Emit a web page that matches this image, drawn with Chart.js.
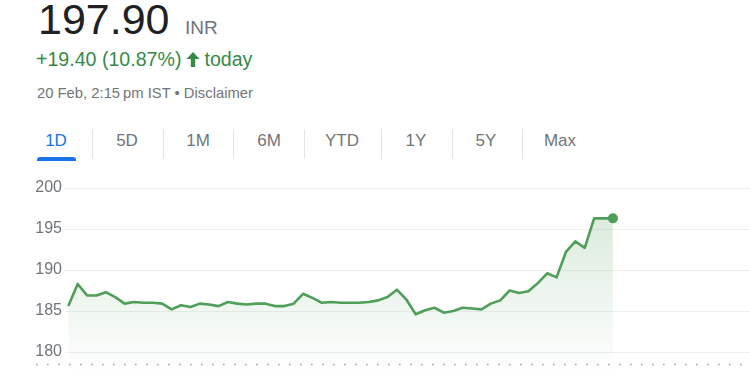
<!DOCTYPE html>
<html>
<head>
<meta charset="utf-8">
<script src="https://cdn.jsdelivr.net/npm/chart.js@4"></script>
<style>
  body { margin: 0; width: 750px; height: 375px; overflow: hidden; background: #fff; font-family: "Liberation Sans", Arial, sans-serif; position: relative; }
  .abs { position: absolute; white-space: nowrap; }
  #price { left: 38px; top: -5px; font-size: 43px; color: #202124; }
  #cur { left: 185px; top: 17px; font-size: 19px; color: #70757a; }
  #change { left: 36px; top: 48px; font-size: 19.6px; color: #37894a; }
  #change svg { vertical-align: -1px; margin: 0 4px 0 5px; }
  #meta { left: 37px; top: 85px; font-size: 14.8px; color: #70757a; }
  .tab { top: 131px; font-size: 17px; color: #70757a; transform: translateX(-50%); }
  .tab.on { color: #1a73e8; }
  .sep { position: absolute; top: 129px; width: 1px; height: 30px; background: #e3e3e3; }
  #uline { position: absolute; left: 37px; top: 157px; width: 39px; height: 4px; background: #1a73e8; border-radius: 3px 3px 0 0; }
  #wrap { position: absolute; left: 0; top: 170px; }
</style>
</head>
<body>
<div class="abs" id="price">197.90</div>
<div class="abs" id="cur">INR</div>
<div class="abs" id="change">+19.40 (10.87%)<svg width="14" height="15" viewBox="0 0 14 15"><path d="M7 0 L13.5 7 L9.2 7 L9.2 15 L4.8 15 L4.8 7 L0.5 7 Z" fill="#37894a"/></svg>today</div>
<div class="abs" id="meta">20 Feb, 2:15&#8201;pm IST • Disclaimer</div>
<div id="tabs"></div>
<div id="uline"></div>
<!-- canvas is 5px larger than the visible area: Chart.js keeps a 5px margin for the end dot -->
<div id="wrap"><canvas id="chart" width="755" height="210"></canvas></div>
<script>
// tab bar
const ranges = ['1D', '5D', '1M', '6M', 'YTD', '1Y', '5Y', 'Max'];
const tabCenters = [56, 127, 198, 269, 342, 416, 486, 560];
const sepX = [92, 163, 233, 304, 381, 452, 522];

// price series, one point per 5 minutes from the open
const prices = [
  185.6, 188.3, 186.9, 186.9, 187.3, 186.7, 185.9, 186.1, 186.0, 186.0,
  185.9, 185.2, 185.7, 185.5, 185.9, 185.8, 185.6, 186.1, 185.9, 185.8,
  185.9, 185.9, 185.6, 185.6, 185.9, 187.1, 186.6, 186.0, 186.1, 186.0,
  186.0, 186.0, 186.1, 186.3, 186.7, 187.6, 186.4, 184.6, 185.1, 185.4,
  184.8, 185.0, 185.4, 185.3, 185.2, 185.9, 186.3, 187.5, 187.2, 187.4,
  188.4, 189.6, 189.1, 192.2, 193.5, 192.7, 196.3, 196.3, 196.3
];
const prevClose = 178.5;
const yTicks = [180, 185, 190, 195, 200];
const totalSlots = 72.6; // trading day continues past the last point

const tabs = document.getElementById('tabs');
ranges.forEach((r, i) => {
  const d = document.createElement('div');
  d.className = 'abs tab' + (i === 0 ? ' on' : '');
  d.style.left = tabCenters[i] + 'px';
  d.textContent = r;
  tabs.appendChild(d);
});
sepX.forEach(x => {
  const s = document.createElement('div');
  s.className = 'sep';
  s.style.left = x + 'px';
  tabs.appendChild(s);
});

const green = '#4f9e5a';

// dotted previous close line across the whole width
const prevClosePlugin = {
  id: 'prevClose',
  beforeDatasetsDraw(chart) {
    const ctx = chart.ctx;
    const y = Math.round(chart.scales.y.getPixelForValue(prevClose)) + 0.5;
    ctx.save();
    ctx.strokeStyle = '#9aa0a6';
    ctx.lineWidth = 1.6;
    ctx.setLineDash([1.6, 9.4]);
    ctx.beginPath();
    ctx.moveTo(36, y);
    ctx.lineTo(chart.width, y);
    ctx.stroke();
    ctx.restore();
  }
};

new Chart(document.getElementById('chart'), {
  type: 'line',
  data: {
    datasets: [{
      data: prices.map((p, i) => ({ x: i, y: p })),
      borderColor: green,
      borderWidth: 2.6,
      borderJoinStyle: 'round',
      tension: 0,
      fill: 'start',
      backgroundColor: (context) => {
        const area = context.chart.chartArea;
        if (!area) return 'rgba(79,158,90,0.1)';
        const g = context.chart.ctx.createLinearGradient(0, area.top + 30, 0, area.bottom);
        g.addColorStop(0, 'rgba(79,158,90,0.2)');
        g.addColorStop(1, 'rgba(79,158,90,0)');
        return g;
      },
      pointRadius: (c) => c.dataIndex === prices.length - 1 ? 5 : 0,
      pointBackgroundColor: green,
      pointBorderWidth: 0,
      pointHoverRadius: 0
    }]
  },
  options: {
    responsive: false,
    animation: false,
    layout: { padding: { top: 18, right: 0, bottom: 0, left: 0 } },
    plugins: { legend: { display: false }, tooltip: { enabled: false } },
    scales: {
      x: {
        type: 'linear',
        display: false,
        min: -0.35,
        max: totalSlots
      },
      y: {
        min: 177.2,
        max: 200,
        afterBuildTicks: (s) => { s.ticks = yTicks.map(v => ({ value: v })); },
        afterFit: (s) => {
          s.width = 65;
          s.paddingTop = 0;
          s.paddingBottom = 0;
        },
        border: { display: false },
        grid: { color: '#efefef', drawTicks: false, lineWidth: 1 },
        ticks: {
          padding: 3,
          color: '#70757a',
          font: { family: '"Liberation Sans", Arial, sans-serif', size: 16 }
        }
      }
    }
  },
  plugins: [prevClosePlugin]
});
</script>
</body>
</html>
